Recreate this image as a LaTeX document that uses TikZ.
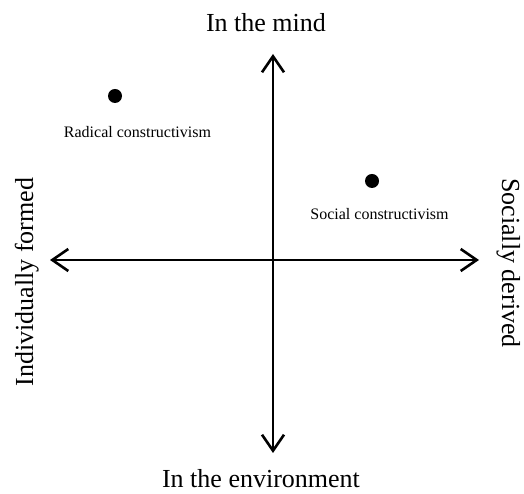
\documentclass[tikz,border=0pt]{standalone}
\usepackage{fontspec}
\setmainfont{Liberation Serif}
\usetikzlibrary{arrows.meta}
\begin{document}
\begin{tikzpicture}[x=1pt, y=1pt,
  axis/.style={line width=2.6pt, {Straight Barb[length=16pt,width=22pt]}-{Straight Barb[length=16pt,width=22pt]}},
  pole/.style={font=\fontsize{26}{30}\selectfont, inner sep=0pt, anchor=base},
  spot/.style={circle, fill=black, inner sep=0pt, minimum size=14pt},
  school/.style={font=\fontsize{16}{19}\selectfont, inner sep=0pt, anchor=base}]
  \useasboundingbox (0,0) rectangle (524,494);
  % axes
  \coordinate (top) at (273,440);
  \coordinate (bottom) at (273,41);
  \coordinate (left) at (50,234);
  \coordinate (right) at (479,234);
  \draw[axis] (bottom) -- (top);
  \draw[axis] (left) -- (right);
  % poles
  \node[pole] (mind) at (266,462) {In the mind};
  \node[pole] (env) at (261,6) {In the environment};
  \node[pole, rotate=90] (indiv) at (33,212) {Individually formed};
  \node[pole, rotate=-90] (social) at (502,231) {Socially derived};
  % positions
  \node[spot] (rad) at (115,398) {};
  \node[school] (radlabel) at (137.5,356) {Radical constructivism};
  \node[spot] (soc) at (372,313) {};
  \node[school] (soclabel) at (379.5,274) {Social constructivism};
\end{tikzpicture}
\end{document}
